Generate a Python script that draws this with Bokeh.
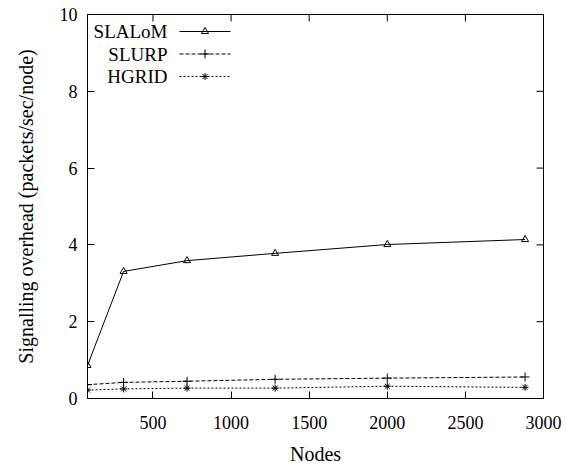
import math
from bokeh.plotting import figure
from bokeh.models import Range1d, FixedTicker, Label
from bokeh.embed import file_html
from bokeh.resources import INLINE

# ---- data ----
nodes = [81, 312, 718, 1282, 2000, 2882]
slalom = [0.86, 3.31, 3.59, 3.78, 4.01, 4.14]
slurp = [0.36, 0.42, 0.45, 0.50, 0.53, 0.56]
hgrid = [0.22, 0.25, 0.27, 0.27, 0.32, 0.29]
x_ticks = [500, 1000, 1500, 2000, 2500, 3000]
y_ticks = [0, 2, 4, 6, 8, 10]
series_names = ["SLALoM", "SLURP", "HGRID"]

FONT = "Liberation Serif"
W, H = 566, 469
ML, MR, MT, MB = 87, 23, 14, 71
FW, FH = W - ML - MR, H - MT - MB
TICK = 7

p = figure(width=W, height=H, output_backend="svg", toolbar_location=None,
           x_range=Range1d(81, 3000), y_range=Range1d(0, 10),
           min_border_left=ML, min_border_right=MR, min_border_top=MT, min_border_bottom=MB)
p.extra_x_ranges = {"px": Range1d(0, FW)}
p.extra_y_ranges = {"py": Range1d(0, FH)}
p.grid.visible = False
p.outline_line_color = "black"
p.outline_line_width = 1
p.background_fill_color = "white"
p.border_fill_color = "white"

def style_axis(ax, ticks):
    ax.ticker = FixedTicker(ticks=ticks)
    ax.major_tick_in = TICK
    ax.major_tick_out = 0
    ax.minor_tick_in = 0
    ax.minor_tick_out = 0
    ax.axis_line_color = "black"
    ax.major_tick_line_color = "black"
    ax.major_label_text_font = FONT
    ax.major_label_text_font_size = "18px"
    ax.major_label_text_color = "black"
    ax.axis_label_text_font = FONT
    ax.axis_label_text_font_size = "20px"
    ax.axis_label_text_font_style = "normal"
    ax.axis_label_text_color = "black"

style_axis(p.xaxis[0], x_ticks)
p.xaxis[0].axis_label = "Nodes"
p.xaxis[0].major_label_standoff = 17
p.xaxis[0].axis_label_standoff = 11
style_axis(p.yaxis[0], y_ticks)
p.yaxis[0].axis_label = "Signalling overhead (packets/sec/node)"
p.yaxis[0].major_label_standoff = 10
p.yaxis[0].axis_label_standoff = 20

# mirror ticks on top and right edges, drawn on the pixel ranges of the frame
x_px = [(t - p.x_range.start) / (p.x_range.end - p.x_range.start) * FW for t in x_ticks]
y_px = [(t - p.y_range.start) / (p.y_range.end - p.y_range.start) * FH for t in y_ticks]
p.segment(x_px, [FH] * len(x_px), x_px, [FH - TICK] * len(x_px),
          x_range_name="px", y_range_name="py", line_color="black", line_width=1)
p.segment([FW] * len(y_px), y_px, [FW - TICK] * len(y_px), y_px,
          x_range_name="px", y_range_name="py", line_color="black", line_width=1)

styles = [
    dict(dash="solid", marker="triangle", size=7),
    dict(dash="4 2", marker="cross", size=9),
    dict(dash="2 2", marker="asterisk", size=7),
]
series = [slalom, slurp, hgrid]
for vals, st in zip(series, styles):
    p.line(nodes, vals, line_color="black", line_width=1, line_dash=st["dash"])
    p.scatter(nodes, vals, marker=st["marker"], size=st["size"], line_color="black",
              fill_color=None, line_width=1)

# legend (label text left of the sample, as in the reference)
leg_text_right = 80      # px from frame left
leg_line_x = (92, 143)  # px from frame left
leg_rows = [367, 344.5, 322]  # px from frame bottom
for name, st, ry in zip(series_names, styles, leg_rows):
    p.add_layout(Label(x=leg_text_right, y=ry, x_units="screen", y_units="screen",
                       text=name, text_align="right", text_baseline="middle",
                       text_font=FONT, text_font_size="19px", text_color="black"))
    p.line(list(leg_line_x), [ry, ry], x_range_name="px", y_range_name="py",
           line_color="black", line_width=1, line_dash=st["dash"])
    p.scatter([sum(leg_line_x) / 2], [ry], x_range_name="px", y_range_name="py",
              marker=st["marker"], size=st["size"], line_color="black",
              fill_color=None, line_width=1)

open("out.html", "w").write(file_html(p, INLINE))
